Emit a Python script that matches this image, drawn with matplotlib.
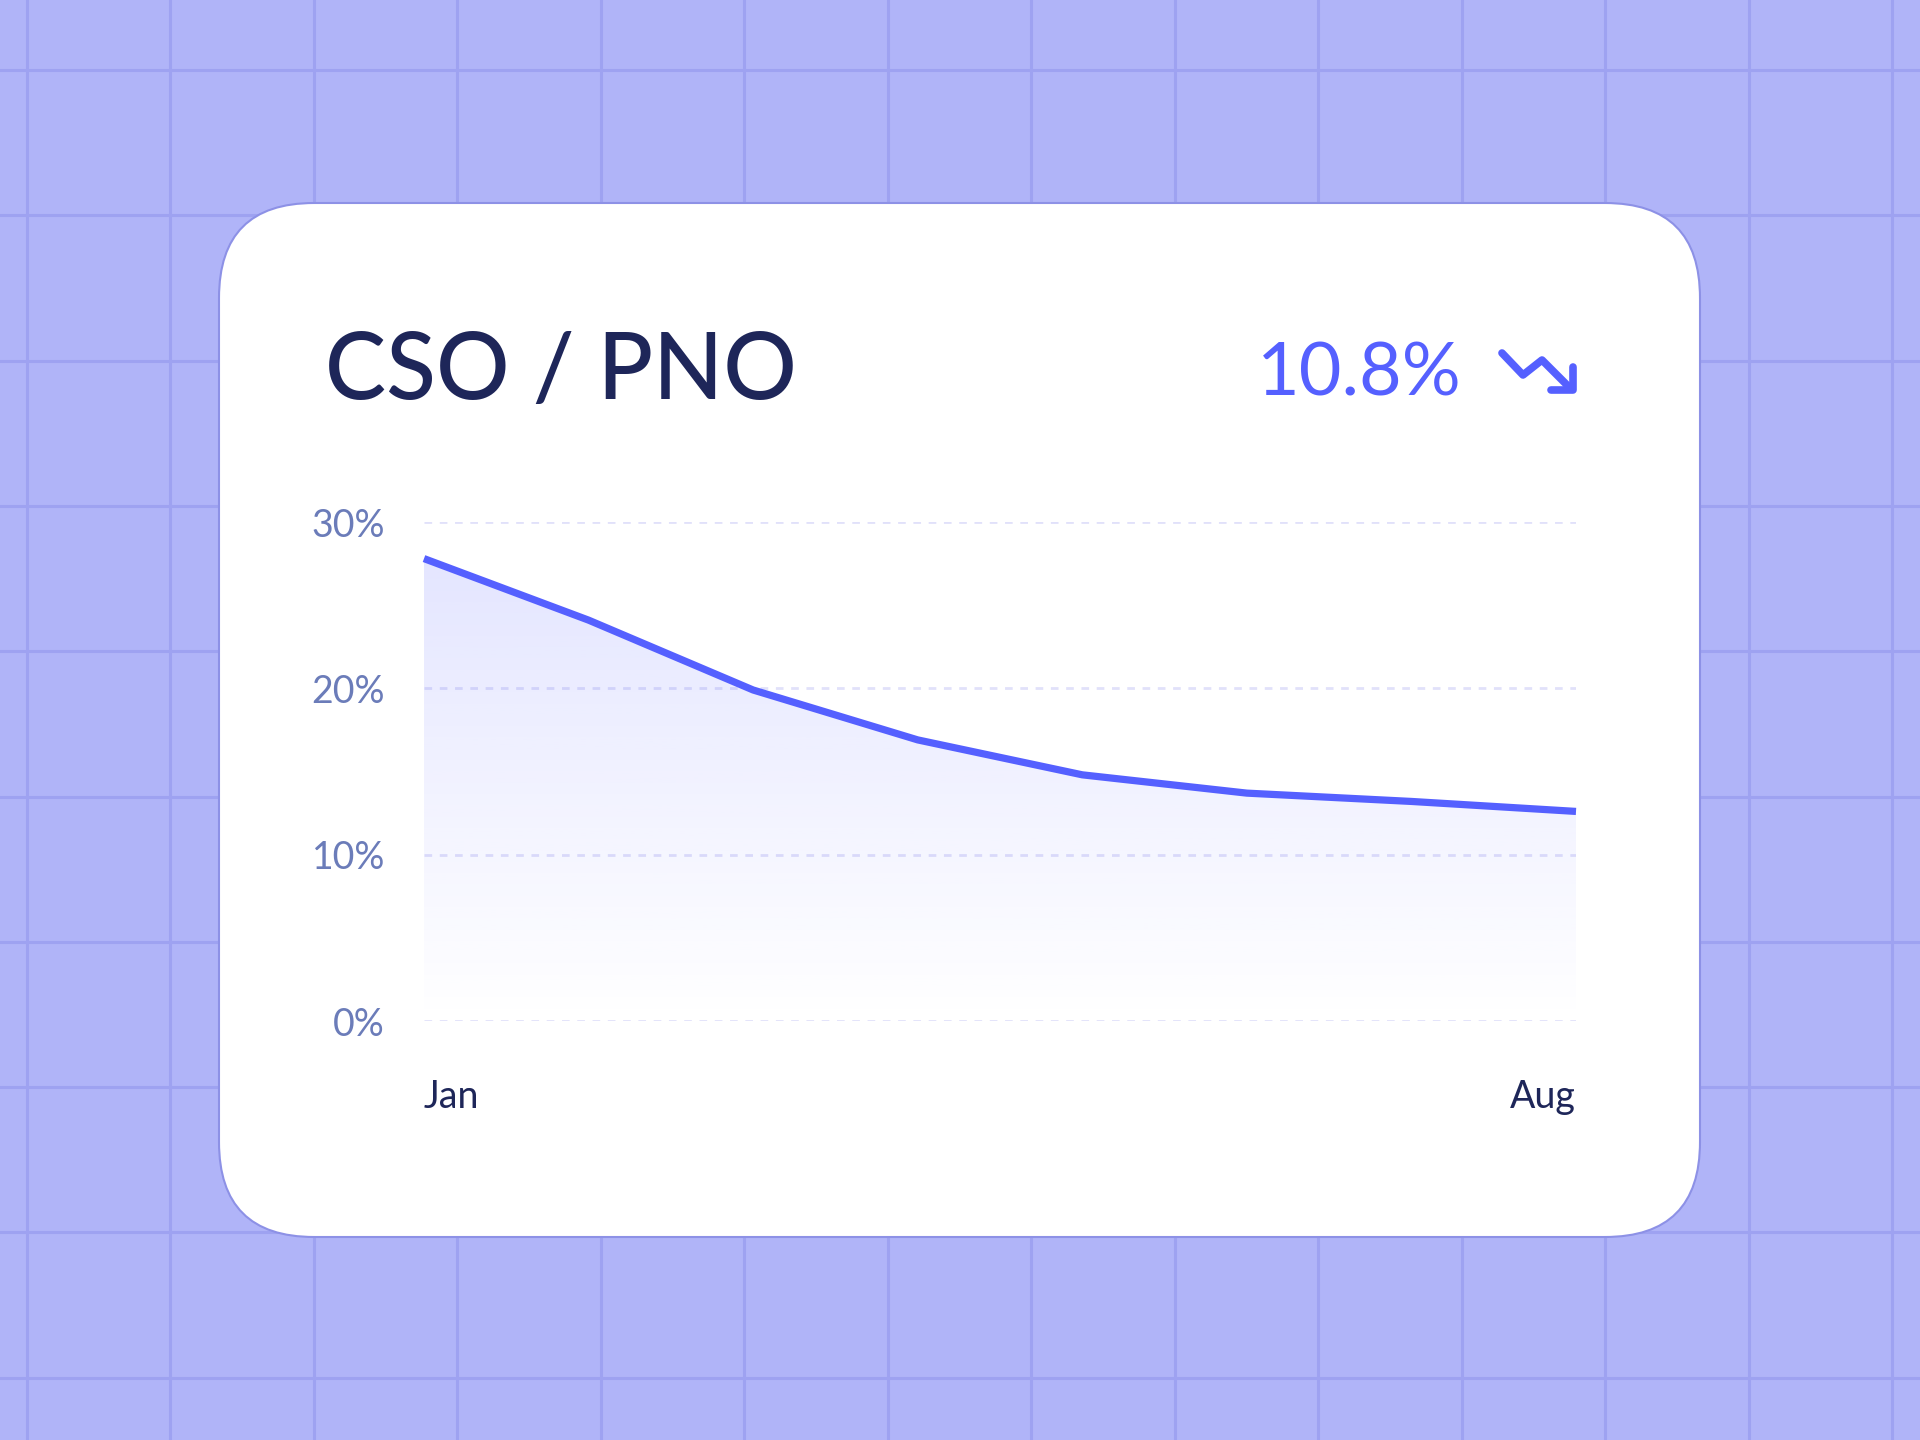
import numpy as np
import matplotlib
matplotlib.use("Agg")
import matplotlib.pyplot as plt
from matplotlib.colors import to_rgb
from matplotlib.patches import FancyBboxPatch

# data
months = ['Jan', 'Feb', 'Mar', 'Apr', 'May', 'Jun', 'Jul', 'Aug']
ratio = [27.8, 24.1, 19.9, 16.9, 14.8, 13.7, 13.2, 12.6]
shown_months = ['Jan', 'Aug']
yticks = [0, 10, 20, 30]
ytick_labels = ['0%', '10%', '20%', '30%']
title = 'CSO / PNO'
headline = '10.8%'

W, H = 1920, 1440
BG = '#b0b4f8'
BG_LINE = '#9ea2f1'
NAVY = '#1e2659'
BLUE = '#5560ff'

plt.rcParams['font.family'] = ['Lato', 'DejaVu Sans']
plt.rcParams['lines.scale_dashes'] = False

fig = plt.figure(figsize=(19.2, 14.4), dpi=100)
fig.patch.set_facecolor(BG)

# background layer in pixel coordinates
bg = fig.add_axes([0, 0, 1, 1])
bg.set_xlim(0, W)
bg.set_ylim(H, 0)
bg.axis('off')
for gx in 27 + 143.46 * np.arange(14):
    bg.axvline(gx, color=BG_LINE, lw=2.2, zorder=0)
for gy in 70 + 145.3 * np.arange(10):
    bg.axhline(gy, color=BG_LINE, lw=2.2, zorder=0)

card = FancyBboxPatch((219, 203), 1481, 1034,
                      boxstyle='round,pad=0,rounding_size=95',
                      fc='white', ec='#8d91e6', lw=1.5, zorder=1)
bg.add_patch(card)

bg.text(325, 399, title, fontsize=66, color=NAVY, fontweight='medium',
        ha='left', va='baseline', zorder=2)
bg.text(1257, 395, headline, fontsize=53, color=BLUE,
        ha='left', va='baseline', zorder=2)

# trend-down icon
kw = dict(color=BLUE, lw=5.5, solid_capstyle='round', solid_joinstyle='round', zorder=2)
bg.plot([1502, 1523, 1542, 1570], [353, 375, 360, 388], **kw)
bg.plot([1551, 1573, 1573], [390, 390, 367], **kw)

# chart
ax = fig.add_axes([424 / W, (H - 1021) / H, (1576 - 424) / W, (1021 - 522) / H])
ax.patch.set_alpha(0)
x = np.arange(len(months))

fill = ax.fill_between(x, ratio, 0, facecolor='none', edgecolor='none')
grad = np.zeros((256, 1, 4))
grad[..., :3] = to_rgb(BLUE)
grad[:, 0, 3] = np.linspace(0, 0.16, 256)
img = ax.imshow(grad, extent=[0, len(months) - 1, 0, max(ratio)],
                origin='lower', aspect='auto', zorder=1)
img.set_clip_path(fill.get_paths()[0], transform=ax.transData)

ax.plot(x, ratio, color=BLUE, lw=5.2, solid_capstyle='butt',
        solid_joinstyle='round', clip_on=False, zorder=3)

ax.set_xlim(0, len(months) - 1)
ax.set_ylim(0, 30)
ax.set_yticks(yticks, ytick_labels)
ax.set_xticks([months.index(m) for m in shown_months], shown_months)
ax.yaxis.grid(True, color='#e1e1fa', lw=2.0, linestyle=(0, (5.5, 5.5)))
ax.set_axisbelow(True)
for s in ax.spines.values():
    s.set_visible(False)
ax.tick_params(axis='y', length=0, pad=28, labelsize=27, labelcolor='#6b7cb9')
ax.tick_params(axis='x', length=0, pad=42, labelsize=27, labelcolor=NAVY)
xl = ax.get_xticklabels()
xl[0].set_ha('left')
xl[-1].set_ha('right')

fig.savefig('out.png', dpi=100, facecolor=BG)
